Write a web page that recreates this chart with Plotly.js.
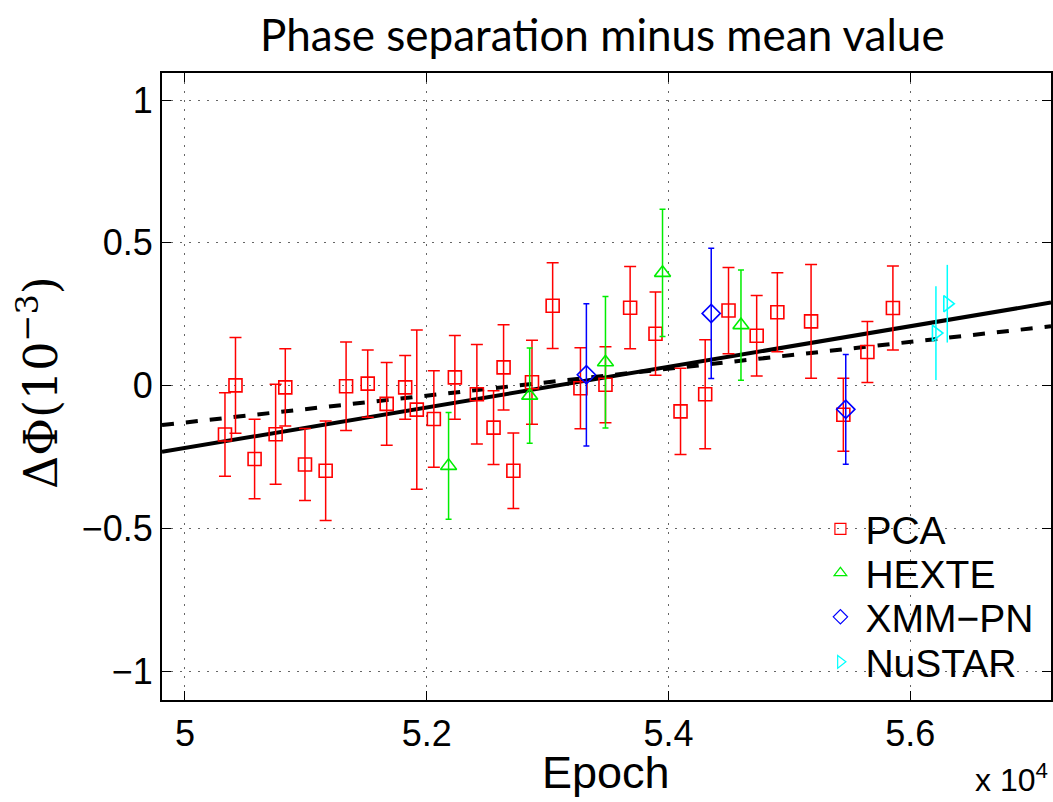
<!DOCTYPE html>
<html>
<head>
<meta charset="utf-8">
<script src="https://cdn.plot.ly/plotly-3.0.1.min.js"></script>
<style>html,body{margin:0;padding:0;background:#fff;}#chart{width:1053px;height:802px;}</style>
</head>
<body>
<div id="chart"></div>
<script>
// Epoch in units of 1e4 (MJD)
const pcaX = [5.0331,5.0418,5.0576,5.0750,5.0830,5.0993,5.1164,5.1333,5.1512,5.1669,5.1822,5.1918,5.2059,5.2233,5.2415,5.2553,5.2636,5.2717,5.2871,5.3042,5.3272,5.3479,5.3683,5.3893,5.4100,5.4304,5.4497,5.4730,5.4901,5.5180,5.5447,5.5646,5.5857];
const pcaY = [-0.171,0.001,-0.257,-0.170,-0.006,-0.276,-0.298,-0.002,0.007,-0.064,-0.006,-0.084,-0.117,0.029,-0.030,-0.147,0.064,-0.298,0.012,0.280,-0.009,0.003,0.273,0.182,-0.090,-0.030,0.263,0.175,0.257,0.225,-0.102,0.118,0.272];
const pcaErr = [0.146,0.168,0.139,0.175,0.135,0.126,0.174,0.155,0.118,0.145,0.112,0.279,0.169,0.147,0.174,0.129,0.149,0.132,0.147,0.150,0.142,0.133,0.144,0.146,0.151,0.191,0.151,0.141,0.138,0.199,0.128,0.107,0.147];

const hexteX = [5.2181,5.2852,5.3479,5.3951,5.4600];
const hexteY = [-0.281,-0.035,0.082,0.395,0.212];
const hexteErr = [0.187,0.167,0.230,0.223,0.193];

const xmmX = [5.3321,5.4354,5.5467];
const xmmY = [0.038,0.253,-0.083];
const xmmErr = [0.249,0.228,0.192];

const nustarX = [5.6213,5.6307];
const nustarY = [0.184,0.287];
const nustarErr = [0.164,0.136];

// Fit lines (endpoints at the axis limits)
const fitX = [4.981,5.7165];
const fitSolidY = [-0.232,0.291];
const fitDashY = [-0.138,0.208];

const xTicks = [5,5.2,5.4,5.6];
const xTickText = ['5','5.2','5.4','5.6'];
const yTicks = [-1,-0.5,0,0.5,1];

const seriesNames = ['PCA','HEXTE','XMM\u2212PN','NuSTAR'];
const seriesColors = ['#ff0000','#00ee00','#0000ff','#00ffff'];
const seriesSymbols = ['square-open','triangle-up-open','diamond-open','triangle-right-open'];

function series(i, x, y, err, size, cap){
  const color = seriesColors[i];
  return {
    type:'scatter', mode:'markers', name:seriesNames[i], x:x, y:y,
    marker:{symbol:seriesSymbols[i], size:size, color:color, line:{color:color, width:1.6}},
    error_y:{type:'data', array:err, visible:true, color:color, thickness:1.5, width:cap},
    showlegend:false
  };
}
function legendEntry(i){
  const color = seriesColors[i];
  return {type:'scatter', mode:'markers', name:seriesNames[i], x:[null], y:[null],
    legend: i === 0 ? 'legend' : 'legend' + (i+1),
    marker:{symbol:seriesSymbols[i], size:11, color:color, line:{color:color, width:1.2}}};
}

const traces = [
  {type:'scatter', mode:'lines', x:fitX, y:fitSolidY, line:{color:'#000', width:4}, showlegend:false, hoverinfo:'skip'},
  {type:'scatter', mode:'lines', x:fitX, y:fitDashY, line:{color:'#000', width:4, dash:'dash'}, showlegend:false, hoverinfo:'skip'},
  series(0, pcaX, pcaY, pcaErr, 13, 6),
  series(1, hexteX, hexteY, hexteErr, 14, 3),
  series(2, xmmX, xmmY, xmmErr, 14, 3),
  series(3, nustarX, nustarY, nustarErr, 14, 0),
  legendEntry(0), legendEntry(1), legendEntry(2), legendEntry(3)
];

const legendFont = {family:'Liberation Sans, Arial, sans-serif', size:39, color:'#000'};
function legendBox(py){
  // py: vertical centre of entry in pixels from top of the figure
  return {x:0.735, y:(700 - py)/627, xanchor:'left', yanchor:'middle', bgcolor:'rgba(0,0,0,0)', borderwidth:0,
    font:legendFont, itemwidth:40};
}

const layout = {
  width:1053, height:802,
  margin:{l:162, r:2, t:73, b:102},
  paper_bgcolor:'#fff', plot_bgcolor:'#fff',
  title:{text:'Phase separation minus mean value', font:{family:'Lato, Open Sans, sans-serif', size:44, color:'#000'}, x:0.572, xanchor:'center', y:0.975, yanchor:'top'},
  xaxis:{
    range:[4.981,5.7165], tickvals:xTicks, ticktext:xTickText,
    ticks:'inside', ticklen:9, tickcolor:'#000', tickwidth:1,
    showline:true, linecolor:'#000', linewidth:2, mirror:'allticks',
    showgrid:true, gridcolor:'#666', griddash:'2px,7px', gridwidth:1,
    zeroline:false,
    tickfont:{family:'Liberation Sans, Arial, sans-serif', size:36, color:'#000'},
    ticklabelstandoff:1
  },
  yaxis:{
    range:[-1.101,1.095], tickvals:yTicks,
    ticks:'inside', ticklen:9, tickcolor:'#000', tickwidth:1,
    showline:true, linecolor:'#000', linewidth:2, mirror:'allticks',
    showgrid:true, gridcolor:'#666', griddash:'2px,7px', gridwidth:1,
    zeroline:false,
    tickfont:{family:'Liberation Sans, Arial, sans-serif', size:36, color:'#000'},
    ticklabelstandoff:0
  },
  showlegend:true,
  legend:legendBox(529),
  legend2:legendBox(573),
  legend3:legendBox(617),
  legend4:legendBox(662),
  annotations:[
    {text:'Epoch', xref:'paper', yref:'paper', x:(606-162)/889, y:(700-772)/627, xanchor:'center', yanchor:'middle', showarrow:false,
     font:{family:'Liberation Sans, Arial, sans-serif', size:45, color:'#000'}},
    {text:'\u0394\u03A6(10<sup>\u22123</sup>)', xref:'paper', yref:'paper', x:(38-162)/889, y:(700-382)/627, xanchor:'center', yanchor:'middle', textangle:-90, showarrow:false,
     font:{family:'DejaVu Serif, Liberation Serif, serif', size:46, color:'#000'}},
    {text:'x 10<sup>4</sup>', xref:'paper', yref:'paper', x:0.999, y:-0.16, xanchor:'right', yanchor:'bottom', showarrow:false,
     font:{family:'Liberation Sans, Arial, sans-serif', size:32, color:'#000'}}
  ]
};

Plotly.newPlot('chart', traces, layout, {displayModeBar:false, staticPlot:true});
</script>
</body>
</html>
